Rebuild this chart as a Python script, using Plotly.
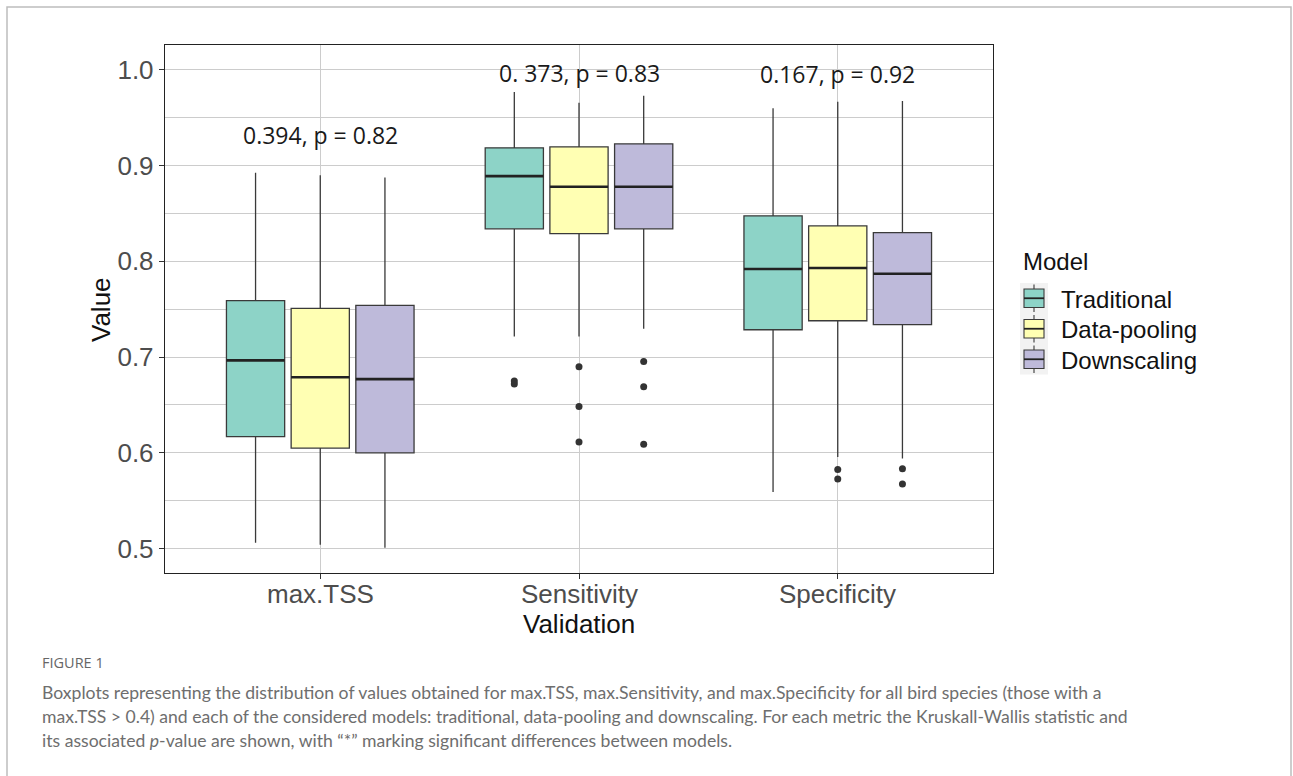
import plotly.graph_objects as go

# ---------------- data ----------------
metrics = ["max.TSS", "Sensitivity", "Specificity"]
models = ["Traditional", "Data-pooling", "Downscaling"]
colors = ["#8DD3C7", "#FFFFB3", "#BEBADA"]

# per model: values for [max.TSS, Sensitivity, Specificity]
upper = {"Traditional": [0.8925, 0.977, 0.960],
         "Data-pooling": [0.890, 0.9656, 0.9666],
         "Downscaling": [0.8876, 0.973, 0.9676]}
q3 = {"Traditional": [0.759, 0.9186, 0.8476],
      "Data-pooling": [0.751, 0.9196, 0.837],
      "Downscaling": [0.754, 0.9228, 0.830]}
med = {"Traditional": [0.6966, 0.889, 0.792],
       "Data-pooling": [0.679, 0.878, 0.793],
       "Downscaling": [0.677, 0.878, 0.787]}
q1 = {"Traditional": [0.617, 0.834, 0.7286],
      "Data-pooling": [0.605, 0.829, 0.738],
      "Downscaling": [0.600, 0.834, 0.734]}
lower = {"Traditional": [0.506, 0.7216, 0.559],
         "Data-pooling": [0.504, 0.7216, 0.5957],
         "Downscaling": [0.501, 0.7296, 0.594]}
# outliers: list of (metric index, value)
outliers = {"Traditional": [(1, 0.672), (1, 0.675)],
            "Data-pooling": [(1, 0.690), (1, 0.6485), (1, 0.6114), (2, 0.5825), (2, 0.5727)],
            "Downscaling": [(1, 0.6955), (1, 0.669), (1, 0.609), (2, 0.5835), (2, 0.5675)]}

kw_labels = ["0.394, p = 0.82", "0. 373, p = 0.83", "0.167, p = 0.92"]
kw_y = [0.932, 0.997, 0.996]

y_ticks = [0.5, 0.6, 0.7, 0.8, 0.9, 1.0]

caption_title = "FIGURE 1"
caption_lines = [
    "Boxplots representing the distribution of values obtained for max.TSS, max.Sensitivity, and max.Specificity for all bird species (those with a",
    "max.TSS &gt; 0.4) and each of the considered models: traditional, data-pooling and downscaling. For each metric the Kruskall-Wallis statistic and",
    "its associated <i>p</i>-value are shown, with \u201c*\u201d marking significant differences between models.",
]

# ---------------- layout constants ----------------
W, H = 1293, 776
L, R, T, B = 165, 993, 45, 573  # plot area in px
dodge = 0.25
bw = 0.225
edge = "#3a3a3a"
AX_FONT = "Liberation Sans"


def px_x(p):
    return (p - L) / (R - L)


def px_y(p):
    return (B - p) / (B - T)


fig = go.Figure()

for j, m in enumerate(models):
    off = (j - 1) * dodge
    xs = [i + 1 + off for i in range(len(metrics))]
    fig.add_trace(go.Box(
        x=xs, q1=q1[m], median=med[m], q3=q3[m],
        lowerfence=lower[m], upperfence=upper[m],
        width=bw, whiskerwidth=0, name=m,
        fillcolor=colors[j], line=dict(color=edge, width=1.3),
        boxpoints=False, showlegend=False,
    ))
    # thicker median segments
    mx, my = [], []
    for i in range(len(metrics)):
        mx += [xs[i] - bw / 2, xs[i] + bw / 2, None]
        my += [med[m][i], med[m][i], None]
    fig.add_trace(go.Scatter(x=mx, y=my, mode="lines",
                             line=dict(color="#222222", width=2.6),
                             showlegend=False, hoverinfo="skip"))
    # outliers
    ox = [k + 1 + off for k, v in outliers[m]]
    oy = [v for k, v in outliers[m]]
    fig.add_trace(go.Scatter(x=ox, y=oy, mode="markers",
                             marker=dict(color="#333333", size=7),
                             showlegend=False, hoverinfo="skip"))

ann = []
for i, (t, yv) in enumerate(zip(kw_labels, kw_y)):
    ann.append(dict(x=i + 1, y=yv, xref="x", yref="y", text=t, showarrow=False,
                    font=dict(family="Open Sans", size=23, color="#1a1a1a"),
                    xanchor="center", yanchor="middle"))

# x tick labels
for i, t in enumerate(metrics):
    ann.append(dict(x=i + 1, y=px_y(594), xref="x", yref="paper", text=t, showarrow=False,
                    xanchor="center", yanchor="middle",
                    font=dict(family=AX_FONT, size=26, color="#4d4d4d")))

ann.append(dict(x=px_x(101), y=px_y(310), xref="paper", yref="paper", text="Value",
                textangle=-90, showarrow=False, xanchor="center", yanchor="middle",
                font=dict(family=AX_FONT, size=26, color="#111111")))
ann.append(dict(x=px_x(579), y=px_y(624), xref="paper", yref="paper", text="Validation",
                showarrow=False, xanchor="center", yanchor="middle",
                font=dict(family=AX_FONT, size=26, color="#111111")))
ann.append(dict(x=px_x(40), y=px_y(662), xref="paper", yref="paper", text=caption_title,
                showarrow=False, xanchor="left", yanchor="middle",
                font=dict(family="Open Sans", size=14.5, color="#666666")))
for k, line in enumerate(caption_lines):
    ann.append(dict(x=px_x(40), y=px_y(692 + 24 * k), xref="paper", yref="paper", text=line,
                    showarrow=False, xanchor="left", yanchor="middle",
                    font=dict(family="Lato", size=17.6, color="#6e6e6e")))

shapes = [dict(type="rect", xref="paper", yref="paper",
               x0=px_x(7), x1=px_x(1291), y0=px_y(7), y1=px_y(800),
               line=dict(color="#bdbdbd", width=1.5), fillcolor="rgba(0,0,0,0)", layer="below")]

# ---------------- custom ggplot-style legend ----------------
ann.append(dict(x=px_x(1021), y=px_y(261), xref="paper", yref="paper", text="Model",
                showarrow=False, xanchor="left", yanchor="middle",
                font=dict(family=AX_FONT, size=24, color="#111111")))
key_x0, key_x1 = 1020, 1048
cell_h = 30.5
top0 = 283
shapes.append(dict(type="rect", xref="paper", yref="paper",
                   x0=px_x(key_x0), x1=px_x(key_x1), y0=px_y(top0), y1=px_y(top0 + 3 * cell_h),
                   line=dict(width=0), fillcolor="#f2f2f2", layer="above"))
cx = (key_x0 + key_x1) / 2
for j, m in enumerate(models):
    ct = top0 + j * cell_h
    cb = ct + cell_h
    cm = ct + cell_h / 2
    shapes.append(dict(type="line", xref="paper", yref="paper",
                       x0=px_x(cx), x1=px_x(cx), y0=px_y(ct + 1.5), y1=px_y(cb - 1.5),
                       line=dict(color=edge, width=1.1), layer="above"))
    shapes.append(dict(type="rect", xref="paper", yref="paper",
                       x0=px_x(cx - 10), x1=px_x(cx + 10), y0=px_y(ct + 6), y1=px_y(cb - 6),
                       line=dict(color=edge, width=1.1), fillcolor=colors[j], layer="above"))
    shapes.append(dict(type="line", xref="paper", yref="paper",
                       x0=px_x(cx - 10), x1=px_x(cx + 10), y0=px_y(cm), y1=px_y(cm),
                       line=dict(color="#222222", width=1.8), layer="above"))
    ann.append(dict(x=px_x(1059), y=px_y(cm + 1), xref="paper", yref="paper", text=m,
                    showarrow=False, xanchor="left", yanchor="middle",
                    font=dict(family=AX_FONT, size=24, color="#111111")))

fig.update_layout(
    width=W, height=H,
    margin=dict(l=L, r=W - R, t=T, b=H - B, pad=0),
    paper_bgcolor="white", plot_bgcolor="white",
    boxmode="overlay",
    showlegend=False,
    xaxis=dict(range=[0.4, 3.6], tickvals=[1, 2, 3], ticktext=metrics, showticklabels=False,
               showgrid=True, gridcolor="#cccccc", gridwidth=1.3,
               ticks="outside", ticklen=5, tickcolor="#333333", tickwidth=1.2,
               showline=True, linecolor="#222222", linewidth=1.4, mirror=True,
               zeroline=False),
    yaxis=dict(range=[0.4745, 1.026], tickvals=y_ticks, ticktext=[f"{v:.1f}" for v in y_ticks],
               showgrid=True, gridcolor="#cccccc", gridwidth=1.3,
               minor=dict(dtick=0.05, tick0=0.5, showgrid=True, gridcolor="#cccccc", gridwidth=1.3, ticks=""),
               ticks="outside", ticklen=5, tickcolor="#333333", tickwidth=1.2,
               tickfont=dict(family=AX_FONT, size=26, color="#4d4d4d"),
               showline=True, linecolor="#222222", linewidth=1.4, mirror=True,
               zeroline=False),
    annotations=ann,
    shapes=shapes,
)

fig.write_html("out.html")
